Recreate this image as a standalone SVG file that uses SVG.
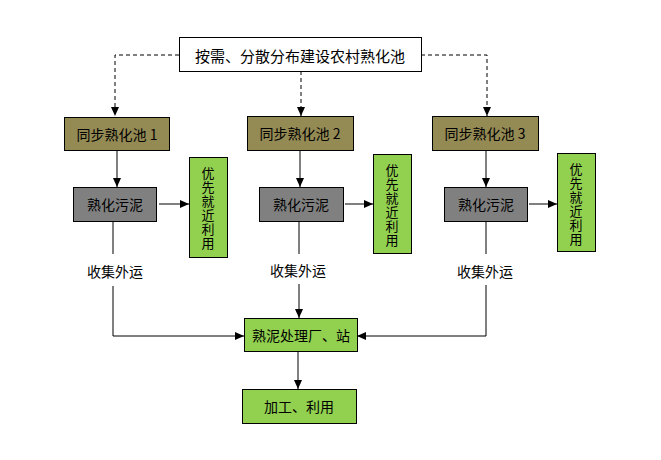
<svg xmlns="http://www.w3.org/2000/svg" width="661" height="460" viewBox="0 0 661 460">
<defs>
<marker id="ah" markerWidth="10" markerHeight="10" refX="9" refY="5" orient="auto" markerUnits="userSpaceOnUse">
<path d="M0,1 L9,5 L0,9 Z" fill="#000"/>
</marker>
<style>
text{font-family:"Noto Sans CJK SC","Liberation Sans",sans-serif;fill:#000;font-size:14px;text-anchor:middle;dominant-baseline:central}
.v{font-size:13px}
.box{stroke:#000;stroke-width:1}
.top{fill:#fff}
.olive{fill:#948a54}
.gray{fill:#808080}
.green{fill:#92d050}
.ln{fill:none;stroke:#000;stroke-width:1}
.dash{stroke-dasharray:4,3}
</style>
</defs>
<rect width="661" height="460" fill="#fff"/>
<g id="connectors">
<path class="ln dash" d="M179,55 H115 V116" marker-end="url(#ah)"/>
<path class="ln dash" d="M421,55 H487 V116" marker-end="url(#ah)"/>
<path class="ln dash" d="M301,71 V116" marker-end="url(#ah)"/>
<path class="ln" d="M117,150 V187" marker-end="url(#ah)"/>
<path class="ln" d="M300,150 V187" marker-end="url(#ah)"/>
<path class="ln" d="M486,150 V187" marker-end="url(#ah)"/>
<path class="ln" d="M159,204 H189" marker-end="url(#ah)"/>
<path class="ln" d="M345,204 H373" marker-end="url(#ah)"/>
<path class="ln" d="M529,204 H557" marker-end="url(#ah)"/>
<path class="ln" d="M113,222 V254"/>
<path class="ln" d="M113,286 V336 H244" marker-end="url(#ah)"/>
<path class="ln" d="M299,222 V254"/>
<path class="ln" d="M299,284 V318" marker-end="url(#ah)"/>
<path class="ln" d="M486,222 V254"/>
<path class="ln" d="M486,285 V336 H357" marker-end="url(#ah)"/>
<path class="ln" d="M298,351 V389" marker-end="url(#ah)"/>
</g>
<g id="top">
<rect class="box top" x="179.5" y="37.5" width="242" height="34"/>
<text x="300" y="55" style="font-size:15px">按需、分散分布建设农村熟化池</text>
</g>
<g id="pool1">
<rect class="box olive" x="64.5" y="117.5" width="105" height="33"/>
<text x="117" y="134">同步熟化池 1</text>
</g>
<g id="pool2">
<rect class="box olive" x="247.5" y="116.5" width="106" height="34"/>
<text x="300" y="133">同步熟化池 2</text>
</g>
<g id="pool3">
<rect class="box olive" x="432.5" y="116.5" width="106" height="34"/>
<text x="485" y="133">同步熟化池 3</text>
</g>
<g id="sludge1">
<rect class="box gray" x="73.5" y="187.5" width="83" height="34"/>
<text x="115" y="204">熟化污泥</text>
</g>
<g id="sludge2">
<rect class="box gray" x="259.5" y="187.5" width="84" height="34"/>
<text x="301" y="204">熟化污泥</text>
</g>
<g id="sludge3">
<rect class="box gray" x="444.5" y="187.5" width="83" height="34"/>
<text x="486" y="204">熟化污泥</text>
</g>
<g id="use1">
<rect class="box green" x="189.5" y="157.5" width="38" height="100"/>
<text class="v" x="208" y="172"><tspan x="208">优</tspan><tspan x="208" dy="14">先</tspan><tspan x="208" dy="14">就</tspan><tspan x="208" dy="14">近</tspan><tspan x="208" dy="14">利</tspan><tspan x="208" dy="14">用</tspan></text>
</g>
<g id="use2">
<rect class="box green" x="373.5" y="154.5" width="38" height="99"/>
<text class="v" x="392" y="169"><tspan x="392">优</tspan><tspan x="392" dy="14">先</tspan><tspan x="392" dy="14">就</tspan><tspan x="392" dy="14">近</tspan><tspan x="392" dy="14">利</tspan><tspan x="392" dy="14">用</tspan></text>
</g>
<g id="use3">
<rect class="box green" x="557.5" y="153.5" width="38" height="98"/>
<text class="v" x="576" y="168"><tspan x="576">优</tspan><tspan x="576" dy="14">先</tspan><tspan x="576" dy="14">就</tspan><tspan x="576" dy="14">近</tspan><tspan x="576" dy="14">利</tspan><tspan x="576" dy="14">用</tspan></text>
</g>
<g id="label1"><text x="115" y="271">收集外运</text></g>
<g id="label2"><text x="298" y="270">收集外运</text></g>
<g id="label3"><text x="485" y="271">收集外运</text></g>
<g id="plant">
<rect class="box green" x="244.5" y="318.5" width="113" height="33"/>
<text x="301" y="335">熟泥处理厂、站</text>
</g>
<g id="final">
<rect class="box green" x="242.5" y="389.5" width="114" height="34"/>
<text x="299" y="406">加工、利用</text>
</g>
</svg>
